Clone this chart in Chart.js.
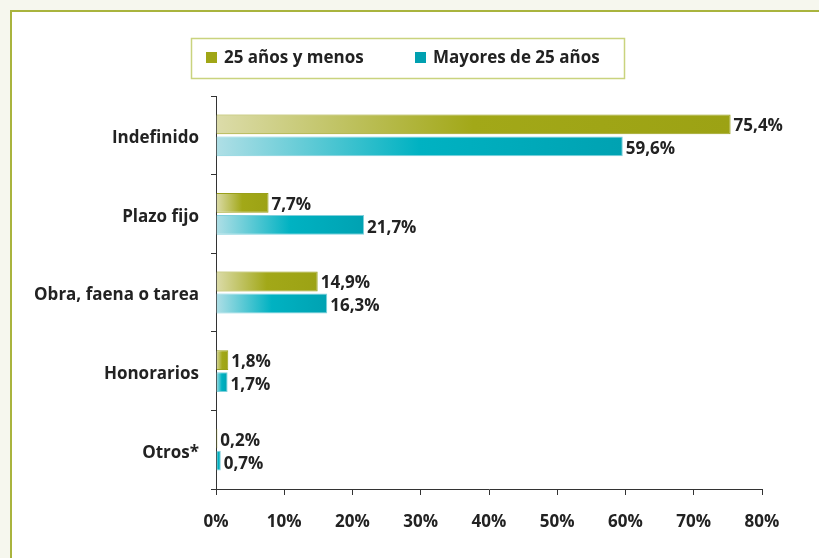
<!DOCTYPE html>
<html><head><meta charset="utf-8">
<script src="https://cdn.jsdelivr.net/npm/chart.js@4.4.1/dist/chart.umd.min.js"></script>
<style>html,body{margin:0;padding:0;background:#f6f7ee;}#wrap{width:819px;height:558px;position:relative;}</style>
</head><body><div id="wrap"><canvas id="c" width="819" height="558"></canvas></div>
<script>
const categories = ["Indefinido", "Plazo fijo", "Obra, faena o tarea", "Honorarios", "Otros*"];
const seriesNames = ["25 años y menos", "Mayores de 25 años"];
const young = [75.4, 7.7, 14.9, 1.8, 0.2];
const older = [59.6, 21.7, 16.3, 1.7, 0.7];
const xTicks = [0, 10, 20, 30, 40, 50, 60, 70, 80];

const FONT = "'Open Sans', Lato, sans-serif";
const FSIZE = 17;
const OLIVE = {light: "#dcdcaa", mid: "#a2a818", end: "#9ca214", border: "#9aa01a", key: "#a0a616"};
const TEAL = {light: "#b0dfe6", mid: "#00b2c2", end: "#00a2b2", border: "#7fd0dc", key: "#00a0b0"};

function grad(pal) {
  return (ctx) => {
    const chart = ctx.chart;
    if (!chart.chartArea || !chart.scales.x) return pal.mid;
    const x0 = chart.scales.x.getPixelForValue(0);
    const x1 = chart.scales.x.getPixelForValue(ctx.raw);
    const g = chart.ctx.createLinearGradient(x0, 0, Math.max(x1, x0 + 1), 0);
    g.addColorStop(0, pal.light);
    g.addColorStop(0.5, pal.mid);
    g.addColorStop(1, pal.end);
    return g;
  };
}

const bgPlugin = {
  id: 'bg',
  beforeDraw(chart) {
    const c = chart.ctx;
    c.save();
    c.fillStyle = '#f6f7ee';
    c.fillRect(0, 0, chart.width, chart.height);
    c.fillStyle = '#ffffff';
    c.fillRect(12, 12, chart.width - 12, chart.height - 12);
    c.fillStyle = '#a9b43e';
    c.fillRect(10, 10, chart.width - 10, 2);
    c.fillRect(10, 10, 2, chart.height - 10);
    c.restore();
  }
};

const legendPlugin = {
  id: 'boxLegend',
  afterDraw(chart) {
    const c = chart.ctx;
    c.save();
    c.strokeStyle = '#c9d37e';
    c.lineWidth = 1.5;
    c.strokeRect(191.5, 38.5, 433, 40);
    c.font = "bold " + FSIZE + "px " + FONT;
    c.textBaseline = 'middle';
    c.fillStyle = OLIVE.key;
    c.fillRect(206, 52, 11, 11);
    c.fillStyle = '#222';
    c.fillText(seriesNames[0], 224, 58);
    c.fillStyle = TEAL.key;
    c.fillRect(415, 52, 11, 11);
    c.fillStyle = '#222';
    c.fillText(seriesNames[1], 433, 58);
    c.restore();
  }
};

const labelPlugin = {
  id: 'vals',
  afterDatasetsDraw(chart) {
    const c = chart.ctx;
    c.save();
    c.font = "bold " + FSIZE + "px " + FONT;
    c.fillStyle = '#222';
    c.textBaseline = 'middle';
    chart.data.datasets.forEach((ds, i) => {
      chart.getDatasetMeta(i).data.forEach((bar, j) => {
        const v = ds.data[j].toFixed(1).replace('.', ',') + '%';
        c.fillText(v, bar.x + 3, bar.y + 2 + i);
      });
    });
    c.restore();
  }
};

new Chart(document.getElementById('c'), {
  type: 'bar',
  data: {
    labels: categories,
    datasets: [
      {label: seriesNames[0], data: young, backgroundColor: grad(OLIVE), borderColor: OLIVE.border, borderWidth: 1, borderSkipped: 'left', categoryPercentage: 0.56, barPercentage: 0.9},
      {label: seriesNames[1], data: older, backgroundColor: grad(TEAL), borderColor: TEAL.border, borderWidth: 1, borderSkipped: 'left', categoryPercentage: 0.56, barPercentage: 0.9}
    ]
  },
  options: {
    indexAxis: 'y',
    responsive: false,
    animation: false,
    layout: {padding: {top: 96, right: 57, left: 0, bottom: 0}},
    plugins: {legend: {display: false}, tooltip: {enabled: false}},
    scales: {
      x: {
        min: 0, max: 80,
        afterBuildTicks(s) { s.ticks = xTicks.map(v => ({value: v})); },
        afterFit(s) { s.height = 69; },
        ticks: {callback: v => v + '%', color: '#222', font: {family: FONT, size: FSIZE, weight: 'bold'}, padding: 17},
        grid: {drawOnChartArea: false, drawTicks: true, tickLength: 6, color: '#333'},
        border: {color: '#333', width: 1}
      },
      y: {
        afterFit(s) { s.width = 216; },
        ticks: {color: '#222', font: {family: FONT, size: FSIZE, weight: 'bold'}, padding: 12, labelOffset: 3},
        grid: {drawOnChartArea: false, drawTicks: true, tickLength: 5, color: '#333', offset: true},
        border: {color: '#333', width: 1}
      }
    }
  },
  plugins: [bgPlugin, legendPlugin, labelPlugin]
});
</script></body></html>
